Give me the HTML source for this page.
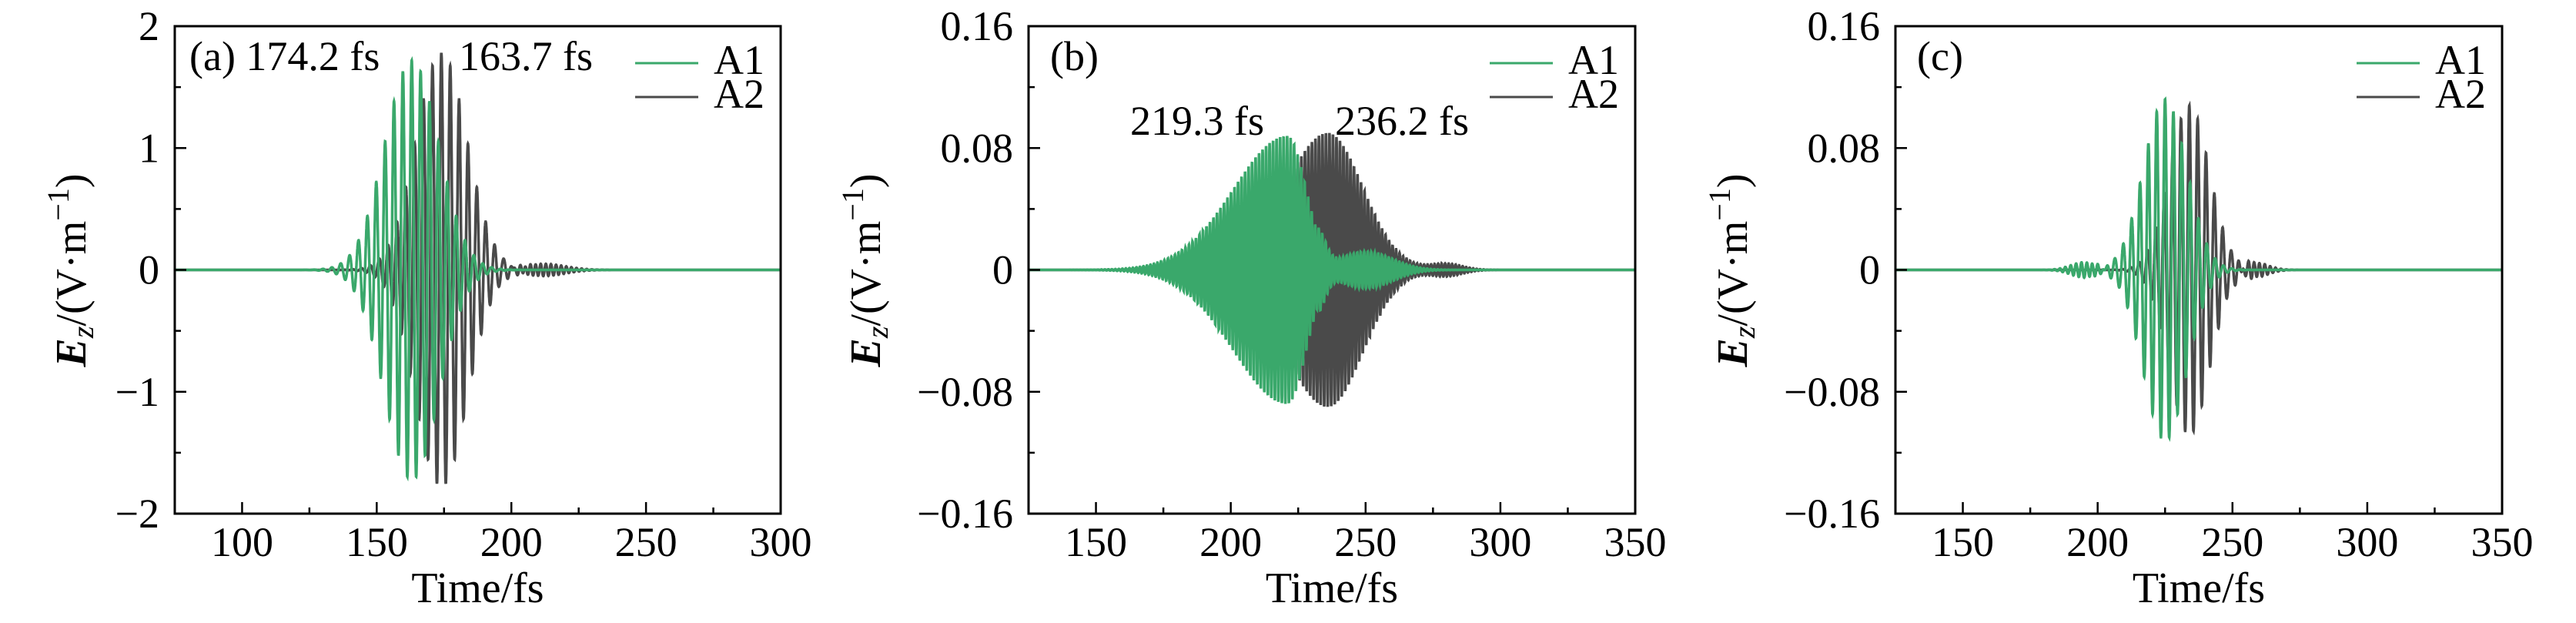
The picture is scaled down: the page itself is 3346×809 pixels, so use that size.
<!DOCTYPE html>
<html><head><meta charset="utf-8"><style>
html,body{margin:0;padding:0;background:#fff;}
svg text{font-family:"Liberation Serif",serif;fill:#000;}
</style></head><body>
<svg id="s" xmlns="http://www.w3.org/2000/svg" width="3346" height="804" viewBox="0 0 3346 804"></svg>
<script>
const S=document.getElementById('s');
const G='#3aa86b', D='#4a4a4a';
const T=34,B=667;
let out='';
function panel(L,R,x0,x1,y0,y1,xt,xm,yt,ym,ylab,fns,notes){
  const W=R-L,H=B-T;
  const X=t=>L+(t-x0)/(x1-x0)*W, Y=v=>B-(v-y0)/(y1-y0)*H;
  out+=`<defs><clipPath id="c${L}"><rect x="${L}" y="${T}" width="${W}" height="${H}"/></clipPath></defs>`;
  fns.forEach(f=>{
    let d='';const N=6000;
    for(let i=0;i<=N;i++){const t=x0+(x1-x0)*i/N;d+=(i?'L':'M')+X(t).toFixed(1)+' '+Y(f.f(t)).toFixed(1);}
    out+=`<path d="${d}" fill="none" stroke="${f.c}" stroke-width="${f.w}" clip-path="url(#c${L})"/>`;
  });
  out+=`<rect x="${L}" y="${T}" width="${W}" height="${H}" fill="none" stroke="#000" stroke-width="3"/>`;
  xt.forEach(t=>{out+=`<line x1="${X(t)}" x2="${X(t)}" y1="${B}" y2="${B-15}" stroke="#000" stroke-width="2.5"/><text x="${X(t)}" y="722" font-size="54" text-anchor="middle">${t}</text>`;});
  xm.forEach(t=>{out+=`<line x1="${X(t)}" x2="${X(t)}" y1="${B}" y2="${B-8}" stroke="#000" stroke-width="2.5"/>`;});
  yt.forEach(v=>{out+=`<line x1="${L}" x2="${L+15}" y1="${Y(v[0])}" y2="${Y(v[0])}" stroke="#000" stroke-width="2.5"/><text x="${L-20}" y="${Y(v[0])+18}" font-size="54" text-anchor="end">${v[1]}</text>`;});
  ym.forEach(v=>{out+=`<line x1="${L}" x2="${L+8}" y1="${Y(v)}" y2="${Y(v)}" stroke="#000" stroke-width="2.5"/>`;});
  out+=`<text x="${(L+R)/2}" y="782" font-size="56" text-anchor="middle">Time/fs</text>`;
  const cx=L-ylab, cy=351;
  out+=`<text transform="translate(${cx+18},${cy}) rotate(-90)" font-size="56" text-anchor="middle"><tspan font-style="italic" font-weight="bold">E</tspan><tspan font-style="italic" font-size="40" dy="10">z</tspan><tspan dy="-10">/(V·m</tspan><tspan font-size="40" dy="-22">−1</tspan><tspan dy="22">)</tspan></text>`;
  out+=`<line x1="${R-189}" x2="${R-107}" y1="82" y2="82" stroke="${G}" stroke-width="3"/><text x="${R-87}" y="96" font-size="54">A1</text>`;
  out+=`<line x1="${R-189}" x2="${R-107}" y1="126" y2="126" stroke="${D}" stroke-width="3"/><text x="${R-87}" y="140" font-size="54">A2</text>`;
  notes.forEach(n=>{out+=`<text x="${n[0]}" y="${n[1]}" font-size="54">${n[2]}</text>`;});
}
const g=(t,c,s)=>Math.exp(-((t-c)*(t-c))/(2*s*s));
// panel a
panel(227,1014,75,300,-2,2,[100,150,200,250,300],[125,175,225,275],
 [[2,'2'],[1,'1'],[0,'0'],[-1,'−1'],[-2,'−2']],[1.5,0.5,-0.5,-1.5],134,
 [{c:D,w:3.5,f:t=>1.78*g(t,174,9.5)*Math.cos(2*Math.PI*(t-174)/3.3)+0.05*g(t,212,8)*Math.cos(2*Math.PI*t/1.9)},
  {c:G,w:3.5,f:t=>1.72*g(t,163,10)*Math.cos(2*Math.PI*(t-163)/3.3)}],
 [[246,91,'(a) 174.2 fs'],[596,91,'163.7 fs']]);
// panel b
panel(1336,2124,125,350,-0.16,0.16,[150,200,250,300,350],[175,225,275,325],
 [[0.16,'0.16'],[0.08,'0.08'],[0,'0'],[-0.08,'−0.08'],[-0.16,'−0.16']],[0.12,0.04,-0.04,-0.12],211,
 [{c:D,w:3.5,f:t=>{const s=t<236?16:13;return 0.09*g(t,236,s)*Math.cos(2*Math.PI*t/1.3)+0.004*g(t,280,6)*Math.cos(2*Math.PI*t/1.3);}},
  {c:G,w:3.5,f:t=>{let a=t<221?0.088*g(t,221,20):0.088*g(t,221,7);if(t>232)a=0.088*g(232,221,7)*g(t,232,3)+0.012*g(t,250,10);return a*Math.cos(2*Math.PI*t/1.3+0.5);}}],
 [[1364,91,'(b)'],[1468,175,'219.3 fs'],[1734,175,'236.2 fs']]);
// panel c
panel(2462,3250,125,350,-0.16,0.16,[150,200,250,300,350],[175,225,275,325],
 [[0.16,'0.16'],[0.08,'0.08'],[0,'0'],[-0.08,'−0.08'],[-0.16,'−0.16']],[0.12,0.04,-0.04,-0.12],211,
 [{c:D,w:3.5,f:t=>0.108*g(t,234,7.5)*Math.cos(2*Math.PI*(t-234)/3.1)+0.005*g(t,258,5)*Math.cos(2*Math.PI*t/2)},
  {c:G,w:3.5,f:t=>0.112*g(t,225,8)*Math.cos(2*Math.PI*(t-225)/3.1)+0.005*g(t,195,5)*Math.cos(2*Math.PI*t/2)}],
 [[2490,91,'(c)']]);
S.innerHTML=out;
</script>
</body></html>
